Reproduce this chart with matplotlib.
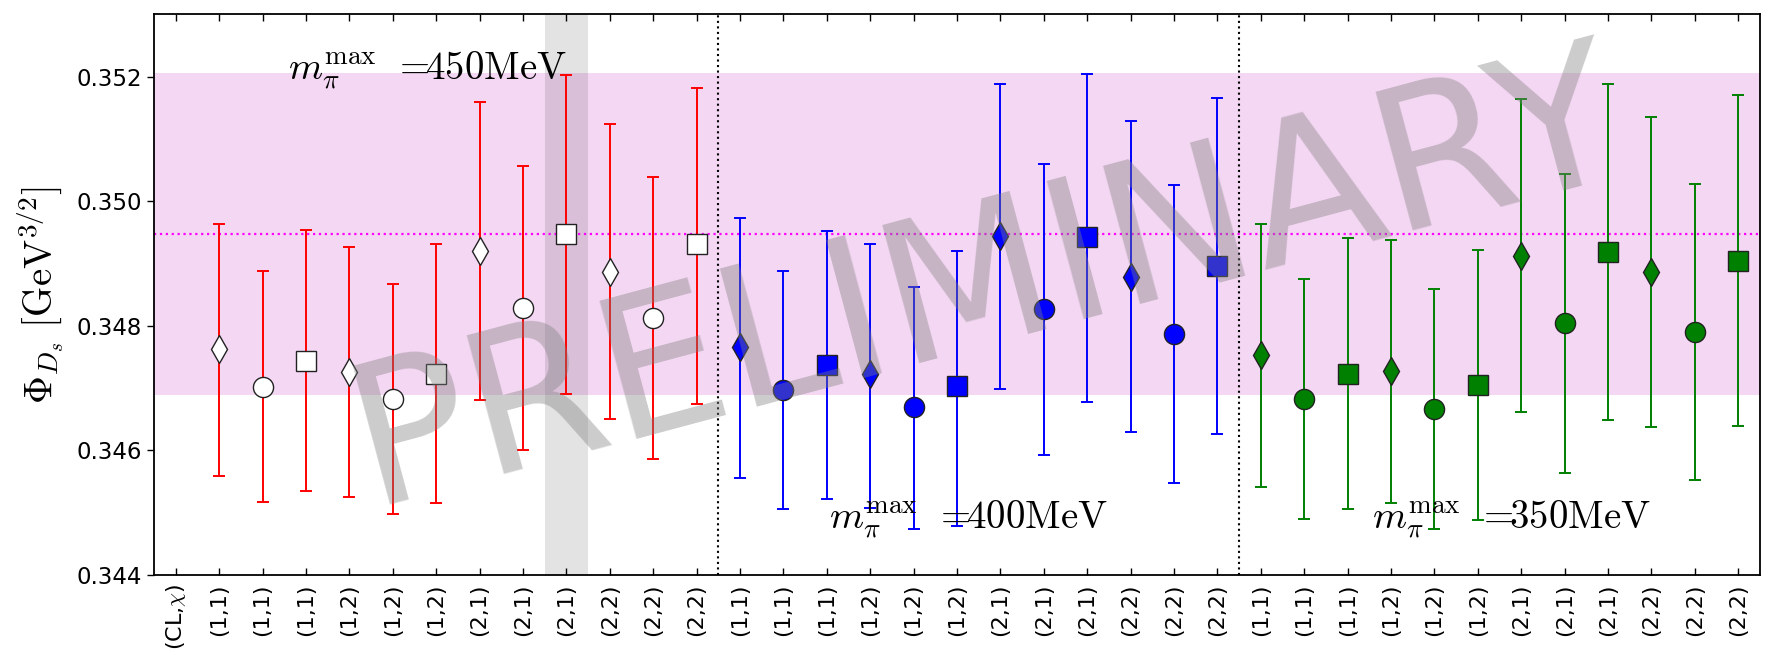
import matplotlib
matplotlib.use("Agg")
import matplotlib.pyplot as plt
import numpy as np

plt.rcParams['mathtext.fontset'] = 'cm'
plt.rcParams['font.family'] = ['DejaVu Sans']

# ---------------- data ----------------
tick_labels = ['(CL,$\\chi$)'] + ['(1,1)', '(1,1)', '(1,1)', '(1,2)', '(1,2)', '(1,2)',
                                   '(2,1)', '(2,1)', '(2,1)', '(2,2)', '(2,2)', '(2,2)'] * 3
group_markers = ['d', 'o', 's', 'd', 'o', 's', 'd', 'o', 's', 'd', 'o', 's']

red_val = [0.347621, 0.347022, 0.347441, 0.347261, 0.346822, 0.347228,
           0.349205, 0.348293, 0.349471, 0.348865, 0.348126, 0.349305]
red_hi = [0.349637, 0.348872, 0.349531, 0.349271, 0.348672, 0.349318,
          0.351594, 0.350569, 0.352027, 0.351235, 0.350383, 0.351820]
red_lo = [0.345591, 0.345165, 0.345344, 0.345245, 0.344972, 0.345151,
          0.346802, 0.346003, 0.346908, 0.346496, 0.345857, 0.346742]

blue_val = [0.347654, 0.346968, 0.347374, 0.347221, 0.346689, 0.347028,
            0.349444, 0.348273, 0.349418, 0.348785, 0.347867, 0.348965]
blue_hi = [0.349737, 0.348872, 0.349524, 0.349318, 0.348619, 0.349198,
           0.351887, 0.350602, 0.352047, 0.351295, 0.350256, 0.351654]
blue_lo = [0.345564, 0.345065, 0.345225, 0.345080, 0.344740, 0.344790,
           0.346988, 0.345923, 0.346782, 0.346296, 0.345471, 0.346263]

green_val = [0.347527, 0.346822, 0.347228, 0.347275, 0.346669, 0.347048,
             0.349118, 0.348040, 0.349185, 0.348865, 0.347907, 0.349045]
green_hi = [0.349631, 0.348752, 0.349404, 0.349378, 0.348592, 0.349218,
            0.351634, 0.350436, 0.351880, 0.351354, 0.350270, 0.351707]
green_lo = [0.345411, 0.344892, 0.345058, 0.345158, 0.344745, 0.344879,
            0.346609, 0.345637, 0.346489, 0.346383, 0.345531, 0.346389]

final_center = 0.34947
final_err = 0.00258
highlight_index = 9
group_labels = [r'$m_{\pi}^{\mathrm{max}}\;\,=\!\!450\mathrm{MeV}$',
                r'$m_{\pi}^{\mathrm{max}}\;\,=\!\!400\mathrm{MeV}$',
                r'$m_{\pi}^{\mathrm{max}}\;\,=\!\!350\mathrm{MeV}$']

# ---------------- figure ----------------
fig = plt.figure(figsize=(17.66, 6.5), dpi=100)
ax = fig.add_axes([0.0872, 0.1154, 0.9094, 0.8626])

n = len(tick_labels)
x_all = np.arange(n)

ax.axhspan(final_center - final_err, final_center + final_err, color='#f4d7f3', zorder=0, lw=0)
ax.axvspan(highlight_index - 0.5, highlight_index + 0.5, color='black', alpha=0.11, zorder=1, lw=0)
ax.axhline(final_center, color='#ff00ff', ls=':', lw=1.6, zorder=1)
ax.axvline(12.5, color='black', ls=':', lw=1.5, zorder=1)
ax.axvline(24.5, color='black', ls=':', lw=1.5, zorder=1)

groups = [
    (red_val, red_lo, red_hi, 'red', 'white', 1),
    (blue_val, blue_lo, blue_hi, 'blue', 'blue', 13),
    (green_val, green_lo, green_hi, 'green', 'green', 25),
]
for vals, lo, hi, ecol, fcol, start in groups:
    vals = np.array(vals)
    lo = np.array(lo)
    hi = np.array(hi)
    for i, m in enumerate(group_markers):
        xi = start + i
        ax.errorbar([xi], [vals[i]], yerr=[[vals[i] - lo[i]], [hi[i] - vals[i]]],
                    fmt='none', ecolor=ecol, elinewidth=1.4, capsize=4.3, capthick=1.4, zorder=3)
        ax.plot([xi], [vals[i]], marker=m, ms=14.5 if m == 'o' else 14, mfc=fcol,
                mec='#222222', mew=1.0, ls='none', zorder=4)

# annotations
ax.text(2.59, 0.35195, group_labels[0], fontsize=28, ha='left', va='baseline', zorder=5)
ax.text(15.06, 0.344748, group_labels[1], fontsize=28, ha='left', va='baseline', zorder=5)
ax.text(27.56, 0.344748, group_labels[2], fontsize=28, ha='left', va='baseline', zorder=5)

# watermark
ax.text(4.5, 0.34512, 'PRELIMINARY', fontsize=142, color='#808080', alpha=0.4,
        rotation=15, rotation_mode='anchor', ha='left', va='baseline', zorder=10,
        family='DejaVu Sans')

ax.set_xlim(-0.5, n - 0.5)
ax.set_ylim(0.344, 0.353)
ax.set_xticks(x_all)
ax.set_xticklabels(tick_labels, rotation=90, fontsize=16)
ax.set_yticks([0.344, 0.346, 0.348, 0.350, 0.352])
ax.set_yticklabels(['0.344', '0.346', '0.348', '0.350', '0.352'], fontsize=16.5)
ax.tick_params(axis='x', direction='in', top=True, bottom=True, length=5, width=1, pad=6)
ax.tick_params(axis='y', direction='out', left=True, right=False, length=5, width=1)
ax.set_ylabel(r'$\Phi_{D_s}\ [\mathrm{GeV}^{3/2}]$', fontsize=28, labelpad=8)
for s in ax.spines.values():
    s.set_linewidth(1.3)

fig.savefig('out.png', dpi=100)
